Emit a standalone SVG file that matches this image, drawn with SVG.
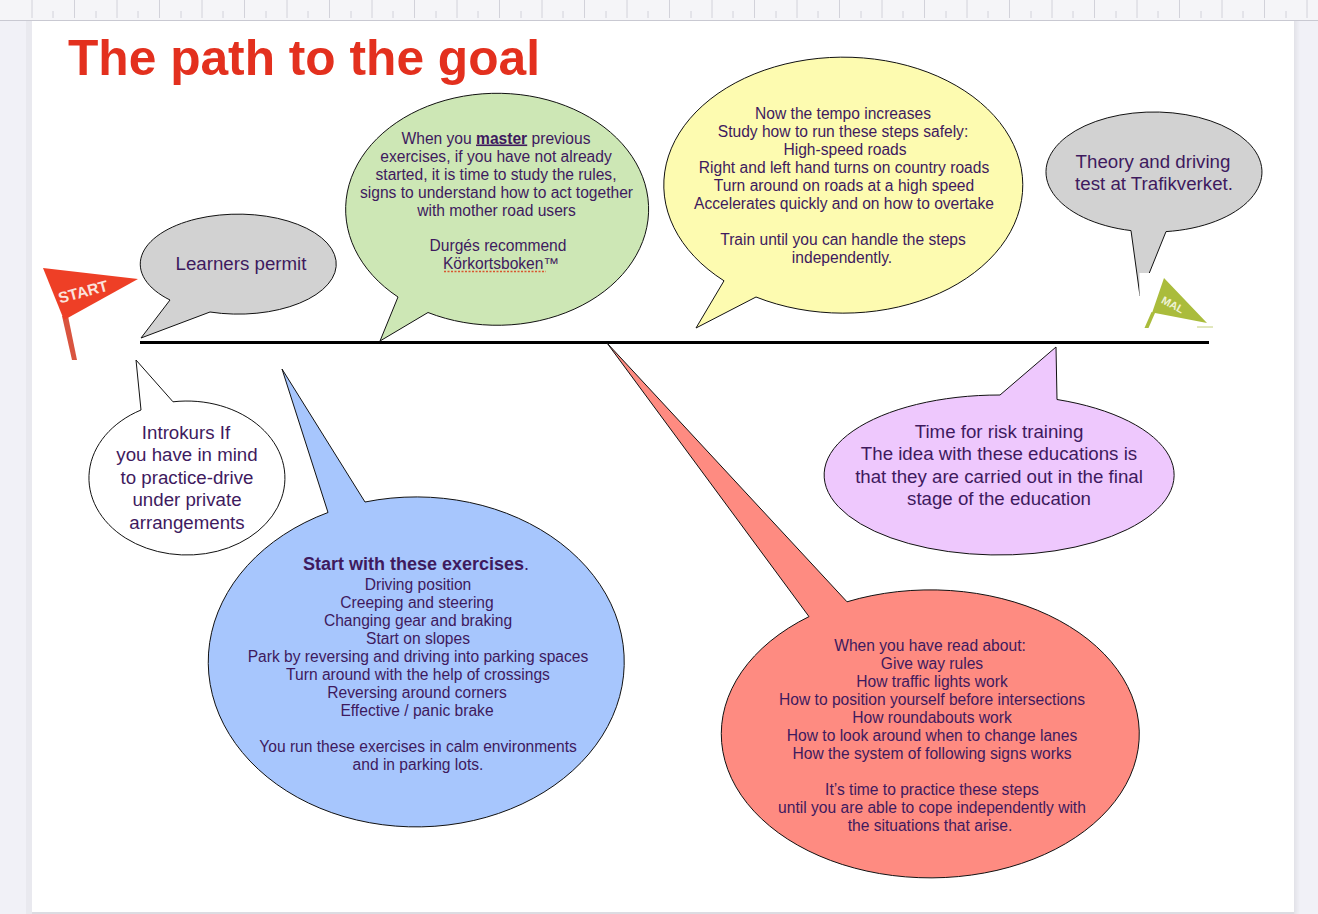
<svg xmlns="http://www.w3.org/2000/svg" width="1318" height="914" viewBox="0 0 1318 914">
<style>
text{font-family:"Liberation Sans",Arial,sans-serif;fill:#3e1a5e;text-anchor:middle}
.s{font-size:15.600px}
.m{font-size:18.700px}
.b{stroke:#111;stroke-width:1;stroke-linejoin:miter}
.w{fill:#fff;font-weight:bold}
</style>
<defs>
<linearGradient id="sh" x1="0" x2="1" y1="0" y2="0"><stop offset="0" stop-color="#e2e2e8"/><stop offset="1" stop-color="#f1f1f7"/></linearGradient>
</defs>
<rect width="1318" height="914" fill="#f1f1f7"/>
<rect x="1294" y="21" width="6" height="893" fill="url(#sh)"/>
<rect x="26" y="21" width="6" height="893" fill="#e9e9ef"/>
<rect x="32" y="21" width="1262" height="891" fill="#fff"/>
<rect x="32" y="912" width="1262" height="2" fill="#dcdce2"/>
<g id="ruler">
<rect width="1318" height="20" fill="#f5f5f8"/>
<path d="M0 20.500H1318" stroke="#c9c9d2" stroke-width="1"/>
<path d="M32 0V18M74.500 0V18M117 0V18M159.500 0V18M202 0V18M244.500 0V18M287 0V18M329.500 0V18M372 0V18M414.500 0V18M457 0V18M499.500 0V18M542 0V18M584.500 0V18M627 0V18M669.500 0V18M712 0V18M754.500 0V18M797 0V18M839.500 0V18M882 0V18M924.500 0V18M967 0V18M1009.500 0V18M1052 0V18M1094.500 0V18M1137 0V18M1179.500 0V18M1222 0V18M1264.500 0V18M1307 0V18M53 11V18M96 11V18M138 11V18M181 11V18M223 11V18M266 11V18M308 11V18M351 11V18M393 11V18M436 11V18M478 11V18M521 11V18M563 11V18M606 11V18M648 11V18M691 11V18M733 11V18M776 11V18M818 11V18M861 11V18M903 11V18M946 11V18M988 11V18M1031 11V18M1073 11V18M1116 11V18M1158 11V18M1201 11V18M1243 11V18M1286 11V18" stroke="#d2d2da" stroke-width="1" fill="none"/>
</g>
<g id="title"><text x="304" y="75" style="font-size:49.700px;font-weight:bold;fill:#e3301e">The path to the goal</text></g>
<g id="connectors"><path d="M140 342.500H1209" stroke="#000" stroke-width="3" fill="none"/></g>
<g id="flag-start">
<path d="M62 316L68 316L77 360L72 360Z" fill="#d9543f"/>
<path d="M43 268L138 279L64 320Z" fill="#ee3f26"/>
<text class="w" transform="translate(84.500 297) rotate(-15)" style="font-size:15.500px;fill:#fbe3dc">START</text>
</g>
<g id="learners-permit">
<path class="b" fill="#d2d2d2" d="M170 300L141 338L210 312A98 50 0 1 0 170 300Z"/>
<text class="m" x="241" y="270">Learners permit</text>
</g>
<g id="theory-test">
<path class="b" fill="#d2d2d2" d="M1131 230.600L1140 296L1166 231.600A108 60 0 1 0 1131 230.600Z"/>
<rect x="1139.500" y="273" width="72" height="57" fill="#fff"/>
<text class="m" x="1153" y="168">Theory and driving</text>
<text class="m" x="1154" y="190">test at Trafikverket.</text>
</g>
<g id="flag-mal">
<path d="M1164 278L1207 323L1155 313L1152 313Z" fill="#aabc3c"/>
<path d="M1151.500 312L1155 313L1148.500 328L1144.500 328Z" fill="#aabc3c"/>
<path d="M1197 327H1213" stroke="#c4d07a" stroke-width="1"/>
<text class="w" transform="translate(1171 308) rotate(28)" style="font-size:11px;fill:#eef2d4">MAL</text>
</g>
<g id="study-rules">
<path class="b" fill="#cde7b5" d="M398 297L380 341L428 312.500A151.500 116 0 1 0 398 297Z"/>
<text class="s" x="496" y="143.500">When you <tspan style="font-weight:bold;text-decoration:underline">master</tspan> previous</text>
<text class="s" x="496" y="161.500">exercises, if you have not already</text>
<text class="s" x="496" y="179.500">started, it is time to study the rules,</text>
<text class="s" x="496.500" y="197.500">signs to understand how to act together</text>
<text class="s" x="496.500" y="215.500">with mother road users</text>
<text class="s" x="498" y="250.500">Durgés recommend</text>
<text class="s" x="501" y="268.500">Körkortsboken™</text>
<path d="M444 271.500H546" stroke="#d8552f" stroke-width="1.500" stroke-dasharray="2 1.500" fill="none"/>
</g>
<g id="tempo">
<path class="b" fill="#fdfbb0" d="M724 280.800L696 328L756 297A179.500 128 0 1 0 724 280.800Z"/>
<text class="s" x="843" y="118.500">Now the tempo increases</text>
<text class="s" x="843" y="136.500">Study how to run these steps safely:</text>
<text class="s" x="845" y="154.500">High-speed roads</text>
<text class="s" x="844" y="172.500">Right and left hand turns on country roads</text>
<text class="s" x="844" y="190.500">Turn around on roads at a high speed</text>
<text class="s" x="844" y="208.500">Accelerates quickly and on how to overtake</text>
<text class="s" x="843" y="244.500">Train until you can handle the steps</text>
<text class="s" x="842" y="262.500">independently.</text>
</g>
<g id="introkurs">
<path class="b" fill="#fff" d="M173 401.800L136 360L141 410A98 77 0 1 0 173 401.800Z"/>
<text class="m" x="186" y="438.500">Introkurs If</text>
<text class="m" x="187" y="461">you have in mind</text>
<text class="m" x="187" y="483.500">to practice-drive</text>
<text class="m" x="187" y="506">under private</text>
<text class="m" x="187" y="528.500">arrangements</text>
</g>
<g id="exercises">
<path class="b" fill="#a7c6fd" d="M365 502L282 369L328 512.500A208 165 0 1 0 365 502Z"/>
<text x="416" y="570" style="font-size:18px"><tspan style="font-weight:bold">Start with these exercises</tspan>.</text>
<text class="s" x="418" y="589.500">Driving position</text>
<text class="s" x="417" y="607.500">Creeping and steering</text>
<text class="s" x="418" y="625.500">Changing gear and braking</text>
<text class="s" x="418" y="643.500">Start on slopes</text>
<text class="s" x="418" y="661.500">Park by reversing and driving into parking spaces</text>
<text class="s" x="418" y="679.500">Turn around with the help of crossings</text>
<text class="s" x="417" y="697.500">Reversing around corners</text>
<text class="s" x="417" y="715.500">Effective / panic brake</text>
<text class="s" x="418" y="751.500">You run these exercises in calm environments</text>
<text class="s" x="418" y="769.500">and in parking lots.</text>
</g>
<g id="read-about">
<path class="b" fill="#fe8b81" d="M847 601.800L607 343L809 616.600A209 144 0 1 0 847 601.800Z"/>
<text class="s" x="930" y="650.500">When you have read about:</text>
<text class="s" x="932" y="668.500">Give way rules</text>
<text class="s" x="932" y="686.500">How traffic lights work</text>
<text class="s" x="932" y="704.500">How to position yourself before intersections</text>
<text class="s" x="932" y="722.500">How roundabouts work</text>
<text class="s" x="932" y="740.500">How to look around when to change lanes</text>
<text class="s" x="932" y="758.500">How the system of following signs works</text>
<text class="s" x="932" y="794.500">It’s time to practice these steps</text>
<text class="s" x="932" y="812.500">until you are able to cope independently with</text>
<text class="s" x="930" y="830.500">the situations that arise.</text>
</g>
<g id="risk-training">
<path class="b" fill="#eec8fd" d="M1057 399.500L1056 347L1000 395A175 80 0 1 0 1057 399.500Z"/>
<text class="m" x="999" y="438">Time for risk training</text>
<text class="m" x="999" y="460">The idea with these educations is</text>
<text class="m" x="999" y="483">that they are carried out in the final</text>
<text class="m" x="999" y="505">stage of the education</text>
</g>
</svg>
